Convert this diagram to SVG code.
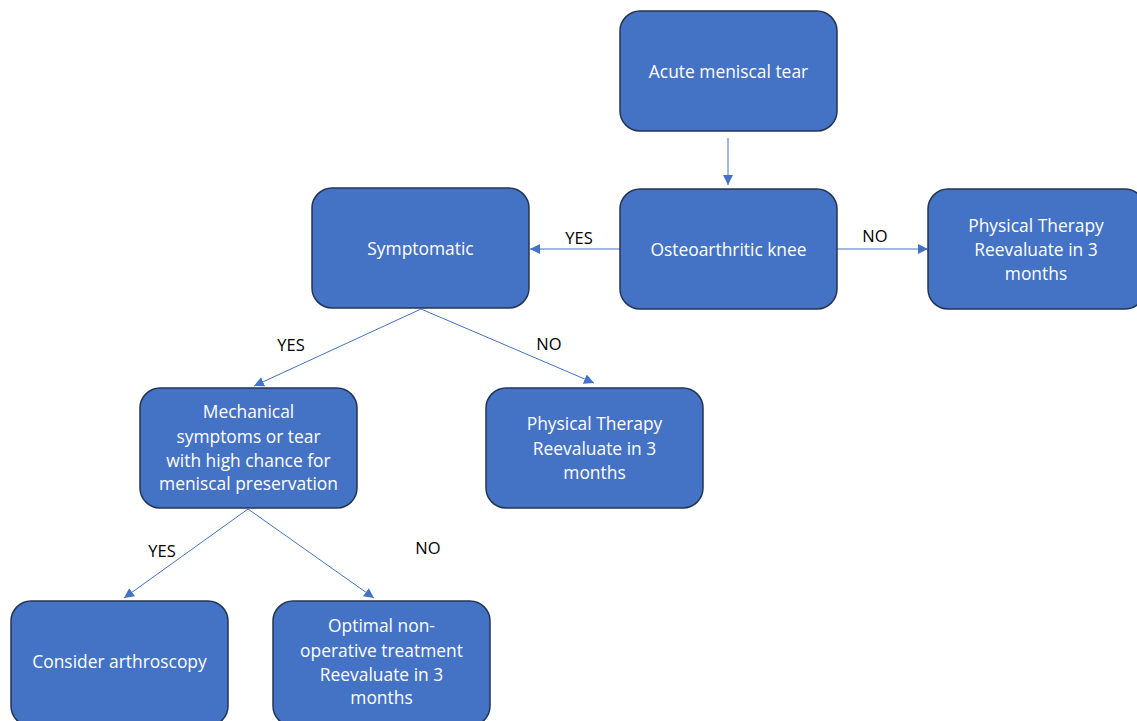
<svg xmlns="http://www.w3.org/2000/svg" width="1137" height="721" viewBox="0 0 1137 721">
<style>
.box{fill:#4472C4;stroke:#243552;stroke-width:1.5}
.t{font-family:"Open Sans","Liberation Sans",sans-serif;font-size:17.4px;fill:#ffffff;text-anchor:middle}
.lbl{font-family:"Open Sans","Liberation Sans",sans-serif;font-size:16.5px;fill:#000000;text-anchor:middle}
.c{stroke:#4472C4;stroke-width:1;fill:none;marker-end:url(#ah)}
</style>
<defs>
<marker id="ah" viewBox="0 0 10 10" refX="10" refY="5" markerWidth="10" markerHeight="10" markerUnits="userSpaceOnUse" orient="auto">
<path d="M0,0 L10,5 L0,10 z" fill="#4472C4"/>
</marker>
</defs>
<rect width="1137" height="721" fill="#ffffff"/>
<g id="connectors">
<line class="c" x1="728" y1="138" x2="728" y2="185"/>
<line class="c" x1="620" y1="249" x2="530" y2="249"/>
<line class="c" x1="837" y1="249" x2="928" y2="249"/>
<line class="c" x1="421" y1="309" x2="254" y2="386"/>
<line class="c" x1="421" y1="309" x2="594" y2="383"/>
<line class="c" x1="248" y1="509" x2="124" y2="598"/>
<line class="c" x1="248" y1="509" x2="374" y2="598"/>
<text class="lbl" x="579" y="244">YES</text>
<text class="lbl" x="875" y="242">NO</text>
<text class="lbl" x="291" y="351">YES</text>
<text class="lbl" x="549" y="350">NO</text>
<text class="lbl" x="162" y="557">YES</text>
<text class="lbl" x="428" y="554">NO</text>
</g>
<g id="acute">
<rect class="box" x="620" y="11" width="217" height="120" rx="20"/>
<text class="t" x="728.5" y="78">Acute meniscal tear</text>
</g>
<g id="osteo">
<rect class="box" x="620" y="189" width="217" height="120" rx="20"/>
<text class="t" x="728.5" y="256">Osteoarthritic knee</text>
</g>
<g id="pt1">
<rect class="box" x="928" y="189" width="217" height="120" rx="20"/>
<text class="t" x="1036" y="232">Physical Therapy</text>
<text class="t" x="1036" y="256">Reevaluate in 3</text>
<text class="t" x="1036" y="280">months</text>
</g>
<g id="symptomatic">
<rect class="box" x="312" y="188" width="217" height="120" rx="20"/>
<text class="t" x="420.5" y="255">Symptomatic</text>
</g>
<g id="mechanical">
<rect class="box" x="140" y="388" width="217" height="120" rx="20"/>
<text class="t" x="248.5" y="418">Mechanical</text>
<text class="t" x="248.5" y="443">symptoms or tear</text>
<text class="t" x="248.5" y="467">with high chance for</text>
<text class="t" x="248.5" y="490">meniscal preservation</text>
</g>
<g id="pt2">
<rect class="box" x="486" y="388" width="217" height="120" rx="20"/>
<text class="t" x="594.5" y="430">Physical Therapy</text>
<text class="t" x="594.5" y="455">Reevaluate in 3</text>
<text class="t" x="594.5" y="479">months</text>
</g>
<g id="arthroscopy">
<rect class="box" x="11" y="601" width="217" height="125" rx="20"/>
<text class="t" x="119.5" y="668">Consider arthroscopy</text>
</g>
<g id="optimal">
<rect class="box" x="273" y="601" width="217" height="125" rx="20"/>
<text class="t" x="381.5" y="632">Optimal non-</text>
<text class="t" x="381.5" y="657">operative treatment</text>
<text class="t" x="381.5" y="681">Reevaluate in 3</text>
<text class="t" x="381.5" y="704">months</text>
</g>
</svg>
